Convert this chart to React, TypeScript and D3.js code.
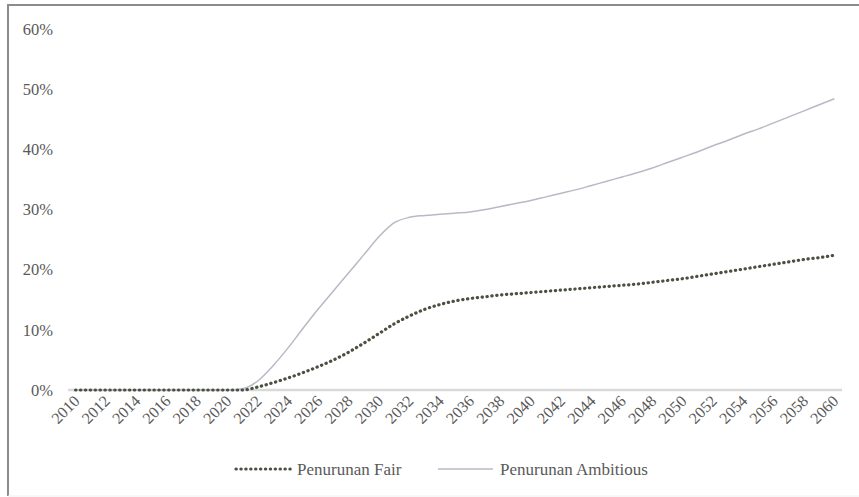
import React from "react";
import * as d3 from "d3";

const years: number[] = d3.range(2010, 2061);
const fair: number[] = [
  0, 0, 0, 0, 0, 0, 0, 0, 0, 0, 0, 0,
  0.5, 1.2, 2.0, 2.9, 3.9, 5.0, 6.3, 7.8, 9.4, 11.0, 12.3, 13.4, 14.2, 14.8,
  15.2, 15.5, 15.8, 16.0, 16.2, 16.4, 16.6, 16.8, 17.0, 17.2, 17.4, 17.6, 17.9,
  18.2, 18.5, 18.9, 19.3, 19.7, 20.1, 20.5, 20.9, 21.3, 21.7, 22.0, 22.4,
];
const ambitious: number[] = [
  0, 0, 0, 0, 0, 0, 0, 0, 0, 0, 0, 0.2,
  1.5, 4.0, 7.0, 10.3, 13.5, 16.5, 19.5, 22.5, 25.5, 27.8, 28.7, 29.0, 29.2, 29.4,
  29.6, 30.0, 30.5, 31.0, 31.5, 32.1, 32.7, 33.3, 34.0, 34.7, 35.4, 36.1, 36.9,
  37.8, 38.7, 39.6, 40.6, 41.5, 42.5, 43.4, 44.4, 45.4, 46.4, 47.4, 48.4,
];
const yTicks: number[] = [0, 10, 20, 30, 40, 50, 60];
const seriesNames: string[] = ["Penurunan Fair", "Penurunan Ambitious"];

const W = 859;
const H = 497;
const FONT = "Liberation Serif, DejaVu Serif, serif";

export default function App() {
  const axisLeft = 68;
  const axisRight = 842;
  const x = d3
    .scaleBand<number>()
    .domain(years)
    .range([axisLeft, axisRight]);
  const cx = (yr: number) => (x(yr) as number) + x.bandwidth() / 2;
  const y = d3.scaleLinear().domain([0, 60]).range([390, 29]);

  const line = d3
    .line<number>()
    .x((_, i) => cx(years[i]))
    .y((d) => y(d))
    .curve(d3.curveMonotoneX);

  const labelYears = years.filter((yr) => (yr - 2010) % 2 === 0);
  const textStyle = { fontFamily: FONT, fill: "#595959" } as React.CSSProperties;

  return (
    <svg
      width={W}
      height={H}
      style={{ position: "absolute", left: 0, top: 0, background: "#fff" }}
    >
      <rect x={0} y={0} width={W} height={H} fill="#fff" />
      {/* frame */}
      <line x1={7} y1={5} x2={W} y2={5} stroke="#8c8c8c" strokeWidth={2} />
      <line x1={8} y1={4} x2={8} y2={496} stroke="#8c8c8c" strokeWidth={2} />
      <line x1={8} y1={496} x2={W} y2={496} stroke="#f0f0f0" strokeWidth={1} />

      {/* y tick labels */}
      {yTicks.map((t) => (
        <text
          key={t}
          x={53}
          y={y(t)}
          dy="0.35em"
          textAnchor="end"
          fontSize={16.5}
          style={textStyle}
        >
          {t}%
        </text>
      ))}

      {/* x axis line */}
      <line
        x1={axisLeft}
        x2={axisRight}
        y1={y(0)}
        y2={y(0)}
        stroke="#d9d9d9"
        strokeWidth={2.5}
      />

      {/* x labels */}
      {labelYears.map((yr) => (
        <text
          key={yr}
          transform={`translate(${cx(yr) + 5},${y(0) + 12}) rotate(-45)`}
          textAnchor="end"
          fontSize={16}
          style={textStyle}
        >
          {yr}
        </text>
      ))}

      {/* series */}
      <path
        d={line(ambitious) || ""}
        fill="none"
        stroke="#b9b9c6"
        strokeWidth={1.5}
      />
      <path
        d={line(fair) || ""}
        fill="none"
        stroke="#4a5140"
        strokeWidth={3.2}
        strokeLinecap="round"
        strokeDasharray="0.3 4.6"
      />

      {/* legend */}
      <line
        x1={236}
        x2={291}
        y1={469}
        y2={469}
        stroke="#4a5140"
        strokeWidth={3.2}
        strokeLinecap="round"
        strokeDasharray="0.3 4.6"
      />
      <text x={297} y={469} dy="0.35em" fontSize={17} style={textStyle}>
        {seriesNames[0]}
      </text>
      <line
        x1={438}
        x2={493}
        y1={469}
        y2={469}
        stroke="#b9b9c6"
        strokeWidth={1.5}
      />
      <text x={500} y={469} dy="0.35em" fontSize={17} style={textStyle}>
        {seriesNames[1]}
      </text>
    </svg>
  );
}
